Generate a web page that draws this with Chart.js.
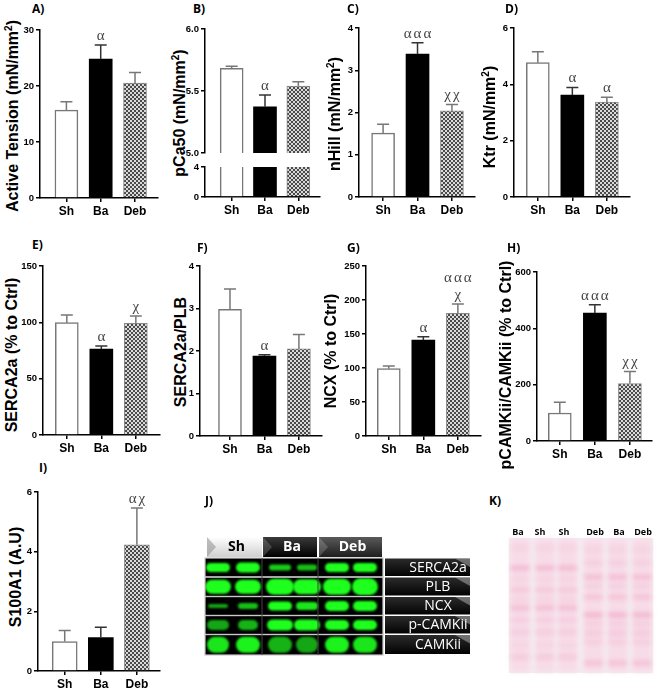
<!DOCTYPE html>
<html>
<head>
<meta charset="utf-8">
<script src="https://cdn.jsdelivr.net/npm/chart.js@4.4.1/dist/chart.umd.min.js"></script>
<style>
  body { margin: 0; background: #fff; }
  #fig { position: relative; width: 657px; height: 694px; overflow: hidden; background: #fff; }
  canvas { position: absolute; }
  .ytitle { position: absolute; white-space: nowrap; font: bold 16px "Liberation Sans", Arial, sans-serif; line-height: 1; color: #000;
            transform: translate(-50%, -50%) rotate(-90deg); }
  .ytitle sup { font-size: 10px; vertical-align: 6px; line-height: 0; }
  .letter { position: absolute; font: bold 12px "Open Sans", sans-serif; line-height: 12px; color: #000; }
</style>
</head>
<body>
<div id="fig"></div>
<script>
const categories = ['Sh', 'Ba', 'Deb'];

// A) active tension
const tensionMean = [15.7, 24.8, 20.5];
const tensionSem = [1.5, 2.5, 1.9];
const tensionSig = ['', 'α', ''];
// B) pCa50
const pca50Mean = [5.683, 5.373, 5.54];
const pca50Sem = [0.017, 0.095, 0.035];
const pca50Sig = ['', 'α', ''];
// C) nHill
const nhillMean = [1.51, 3.38, 2.04];
const nhillSem = [0.21, 0.27, 0.15];
const nhillSig = ['', 'ααα', 'χχ'];
// D) Ktr
const ktrMean = [4.77, 3.62, 3.37];
const ktrSem = [0.39, 0.27, 0.17];
const ktrSig = ['', 'α', 'α'];
// E) SERCA2a
const sercaMean = [99.7, 76.3, 99.1];
const sercaSem = [6.8, 2.7, 6.5];
const sercaSig = ['', 'α', 'χ'];
// F) SERCA2a/PLB
const sercaPlbMean = [2.98, 1.88, 2.05];
const sercaPlbSem = [0.48, 0.03, 0.34];
const sercaPlbSig = ['', 'α', ''];
// G) NCX
const ncxMean = [99, 141, 180.4];
const ncxSem = [4, 5, 13.6];
const ncxSig = ['', 'α', ['ααα', 'χ']];
// H) pCAMKii/CAMKii
const camkiiMean = [99.5, 454, 204];
const camkiiSem = [38.5, 30, 43];
const camkiiSig = ['', 'ααα', 'χχ'];
// I) S100A1
const s100Mean = [0.99, 1.12, 4.23];
const s100Sem = [0.37, 0.35, 1.23];
const s100Sig = ['', '', 'αχ'];

// J) western blot rows and K) ponceau lanes
const blotRows = ['SERCA2a', 'PLB', 'NCX', 'p-CAMKii', 'CAMKii'];
const blotGroups = ['Sh', 'Ba', 'Deb'];
const ponceauLanes = ['Ba', 'Sh', 'Sh', 'Deb', 'Ba', 'Deb'];

const fig = document.getElementById('fig');
const YW = 30, PT = 8, PR = 8, XH = 24;

function addCanvas(left, top, w, h) {
    const c = document.createElement('canvas');
    c.width = w; c.height = h;
    c.style.cssText = `left:${left}px;top:${top}px;width:${w}px;height:${h}px`;
    fig.appendChild(c);
    return c;
}

function addText(cls, html, x, y) {
    const d = document.createElement('div');
    d.className = cls;
    d.innerHTML = html;
    d.style.left = x + 'px';
    d.style.top = y + 'px';
    fig.appendChild(d);
}

// checkered fill used for the Deb bars
const checker = (() => {
    const c = document.createElement('canvas');
    c.width = c.height = 4;
    const g = c.getContext('2d');
    g.fillStyle = '#dadada'; g.fillRect(0, 0, 4, 4);
    g.fillStyle = '#4a4a4a'; g.fillRect(0, 0, 2, 2); g.fillRect(2, 2, 2, 2);
    return g.createPattern(c, 'repeat');
})();

// error bars (upper SEM only) and significance symbols
const semBarsPlugin = {
    id: 'semBars',
    afterDatasetsDraw(chart, args, opts) {
        const ctx = chart.ctx;
        const yScale = chart.scales.y;
        const meta = chart.getDatasetMeta(0);
        const ds = chart.data.datasets[0];
        ctx.save();
        meta.data.forEach((bar, i) => {
            const value = ds.data[i].y;
            if (value > yScale.max) return;
            let topPx = bar.y;
            if (opts.sem) {
                const errPx = yScale.getPixelForValue(value + opts.sem[i]);
                ctx.strokeStyle = ['#777', '#333', '#777'][i];
                ctx.lineWidth = 1.5;
                ctx.beginPath();
                ctx.moveTo(bar.x, bar.y);
                ctx.lineTo(bar.x, errPx);
                ctx.moveTo(bar.x - 6, errPx);
                ctx.lineTo(bar.x + 6, errPx);
                ctx.stroke();
                topPx = errPx;
            }
            const sig = opts.sig && opts.sig[i];
            if (sig) {
                const lines = Array.isArray(sig) ? sig : [sig];
                ctx.font = '15px "Liberation Serif", serif';
                ctx.fillStyle = '#444';
                ctx.textAlign = 'center';
                ctx.textBaseline = 'alphabetic';
                ctx.letterSpacing = '2px';
                lines.slice().reverse().forEach((t, k) => ctx.fillText(t, bar.x + 1, topPx - 5 - k * 17));
            }
        });
        ctx.restore();
    }
};

function makeChart(p) {
    const showX = p.showX !== false;
    const padB = showX ? 0 : 8;
    const w = p.R - p.L + YW + PR;
    const h = p.B - p.T + PT + (showX ? XH : padB);
    const canvas = addCanvas(p.L - YW, p.T - PT, w, h);
    return new Chart(canvas, {
        type: 'bar',
        data: {
            datasets: [{
                data: p.mean.map((v, i) => ({ x: i + 1, y: v })),
                backgroundColor: ['#fff', '#000', checker],
                borderColor: ['#777', '#000', '#888'],
                borderWidth: [1.5, 0, 1],
                borderSkipped: 'start',
                barThickness: p.barW || 23,
                clip: p.clip
            }]
        },
        options: {
            responsive: false,
            animation: false,
            layout: { padding: { top: PT, right: PR, left: 0, bottom: padB } },
            plugins: {
                legend: { display: false },
                tooltip: { enabled: false },
                semBars: { sem: p.sem, sig: p.sig }
            },
            scales: {
                x: {
                    type: 'linear',
                    display: showX,
                    min: p.xmin, max: p.xmax,
                    offset: false,
                    afterBuildTicks: s => { s.ticks = categories.map((c, i) => ({ value: i + 1 })); },
                    afterFit: s => { if (showX) s.height = XH; },
                    grid: { drawOnChartArea: false, drawTicks: true, tickLength: 4, color: '#000', lineWidth: 1.5, offset: false },
                    border: { display: true, color: '#000', width: 1.5 },
                    ticks: {
                        font: { family: '"Liberation Sans", Arial', weight: 'bold', size: 12 },
                        color: '#000', padding: 2, maxRotation: 0, autoSkip: false,
                        callback: v => categories[v - 1]
                    }
                },
                y: {
                    type: 'linear',
                    min: p.yMin || 0, max: p.yMax,
                    afterFit: s => { s.width = YW; },
                    grid: { drawOnChartArea: false, drawTicks: true, tickLength: 4, color: '#000', lineWidth: 1.5 },
                    border: { display: true, color: '#000', width: 1.5 },
                    ticks: {
                        stepSize: p.step,
                        font: { family: '"Liberation Sans", Arial', weight: 'bold', size: 9.5 },
                        color: '#000', padding: 2,
                        callback: p.fmt || (v => v)
                    }
                }
            }
        },
        plugins: [semBarsPlugin]
    });
}

const panels = [
    { letter: 'A)', lx: 32, ly: 3, title: 'Active Tension (mN/mm<sup>2</sup>)', tx: 13, ty: 116,
      charts: [{ mean: tensionMean, sem: tensionSem, sig: tensionSig, yMax: 30, step: 10,
                 L: 40, T: 30, R: 158, B: 198, xmin: 0.23, xmax: 3.67 }] },
    { letter: 'B)', lx: 193, ly: 3, title: 'pCa50 (mN/mm<sup>2</sup>)', tx: 180, ty: 113,
      charts: [{ mean: pca50Mean, sem: pca50Sem, sig: pca50Sig, yMin: 5, yMax: 6, step: 0.5, fmt: v => v.toFixed(1),
                 showX: false, clip: 0, L: 205, T: 29, R: 320, B: 153, xmin: 0.2, xmax: 3.65 },
               { mean: pca50Mean, yMin: 0, yMax: 4, step: 4, clip: 0,
                 L: 205, T: 167, R: 320, B: 197, xmin: 0.2, xmax: 3.65 }] },
    { letter: 'C)', lx: 347, ly: 3, title: 'nHill (mN/mm<sup>2</sup>)', tx: 335, ty: 114,
      charts: [{ mean: nhillMean, sem: nhillSem, sig: nhillSig, yMax: 4, step: 1,
                 L: 359, T: 28, R: 475, B: 197, xmin: 0.3, xmax: 3.67 }] },
    { letter: 'D)', lx: 505, ly: 3, title: 'Ktr (mN/mm<sup>2</sup>)', tx: 490, ty: 117,
      charts: [{ mean: ktrMean, sem: ktrSem, sig: ktrSig, yMax: 6, step: 2,
                 L: 514, T: 28, R: 630, B: 197, xmin: 0.31, xmax: 3.67 }] },
    { letter: 'E)', lx: 32, ly: 239, title: 'SERCA2a (% to Ctrl)', tx: 12, ty: 355,
      charts: [{ mean: sercaMean, sem: sercaSem, sig: sercaSig, yMax: 150, step: 50,
                 L: 43, T: 266, R: 160, B: 435, xmin: 0.31, xmax: 3.7 }] },
    { letter: 'F)', lx: 197, ly: 242, title: 'SERCA2a/PLB', tx: 181, ty: 352,
      charts: [{ mean: sercaPlbMean, sem: sercaPlbSem, sig: sercaPlbSig, yMax: 4, step: 1,
                 L: 200, T: 266, R: 322, B: 436, xmin: 0.13, xmax: 3.67 }] },
    { letter: 'G)', lx: 347, ly: 242, title: 'NCX (% to Ctrl)', tx: 331, ty: 351,
      charts: [{ mean: ncxMean, sem: ncxSem, sig: ncxSig, yMax: 250, step: 50,
                 L: 366, T: 266, R: 481, B: 436, xmin: 0.34, xmax: 3.67 }] },
    { letter: 'H)', lx: 507, ly: 242, title: 'pCAMKii/CAMKii (% to Ctrl)', tx: 506, ty: 365,
      charts: [{ mean: camkiiMean, sem: camkiiSem, sig: camkiiSig, yMax: 600, step: 200,
                 L: 537, T: 272, R: 652, B: 441, xmin: 0.35, xmax: 3.63 }] },
    { letter: 'I)', lx: 39, ly: 462, title: 'S100A1 (A.U)', tx: 16, ty: 577,
      charts: [{ mean: s100Mean, sem: s100Sem, sig: s100Sig, yMax: 6, step: 2, barW: 25,
                 L: 38, T: 492, R: 160, B: 671, xmin: 0.26, xmax: 3.64 }] }
];

panels.forEach(p => {
    addText('ytitle', p.title, p.tx, p.ty);
    addText('letter', p.letter, p.lx, p.ly);
    p.charts.forEach(makeChart);
});
addText('letter', 'J)', 205, 495);
addText('letter', 'K)', 489, 495);

// J) fluorescent western blot
function pill(g, cx, cy, hw, hh) {
    const r = Math.min(hh, hw);
    g.beginPath();
    g.moveTo(cx - hw + r, cy - hh);
    g.lineTo(cx + hw - r, cy - hh);
    g.arc(cx + hw - r, cy, r, -Math.PI / 2, Math.PI / 2);
    g.lineTo(cx - hw + r, cy + hh);
    g.arc(cx - hw + r, cy, r, Math.PI / 2, Math.PI * 1.5);
    g.fill();
}

function drawBlot() {
    const c = addCanvas(200, 528, 275, 132);
    const g = c.getContext('2d');
    // group tabs
    const tabs = [[7, 55, '#ffffff', '#cfcfcf', '#000'], [63, 54, '#3a3a3a', '#000', '#fff'], [119, 63, '#5a5a5a', '#1e1e1e', '#fff']];
    tabs.forEach(([x, w, c1, c2, tc], i) => {
        const gr = g.createLinearGradient(0, 9, 0, 29);
        gr.addColorStop(0, c1); gr.addColorStop(1, c2);
        g.fillStyle = gr;
        g.fillRect(x, 9, w, 20);
        g.fillStyle = i === 0 ? 'rgba(150,150,150,0.6)' : 'rgba(255,255,255,0.18)';
        g.beginPath(); g.moveTo(x, 9); g.lineTo(x + 9, 19); g.lineTo(x, 29); g.fill();
        g.fillStyle = tc;
        g.font = 'bold 14px "Open Sans", sans-serif';
        g.textAlign = 'center'; g.textBaseline = 'middle';
        g.fillText(blotGroups[i], x + w / 2 + 2, 19.5);
    });
    // membrane rows
    const rowTop = [30, 49, 68.5, 87.5, 106.5, 127];
    const lanes = [18, 48, 80, 107, 137, 165];
    const bands = [
        [[12, 4.5, 1], [12, 5, 1], [11, 3, 0.8], [10, 3, 0.75], [12, 4.5, 1], [12, 4.5, 1]],
        [[13, 7, 1], [13, 7, 1], [14, 8, 1], [14, 7.5, 1], [14, 8, 1], [13, 8.5, 1]],
        [[10, 2, 0.65], [10, 3, 0.75], [12, 4.5, 1], [11, 4, 0.9], [12, 5, 1], [12, 5, 1]],
        [[11, 5, 0.65], [10, 5, 0.7], [13, 5.5, 1], [13, 5.5, 1], [12, 5, 1], [12, 5, 1]],
        [[11, 8, 0.9], [12, 8, 0.95], [12, 8, 0.7], [11, 8, 0.65], [12, 8, 0.95], [12, 8, 0.9]]
    ];
    g.fillStyle = '#000';
    g.fillRect(5, 30, 178, 97);
    blotRows.forEach((name, r) => {
        const y0 = rowTop[r], y1 = rowTop[r + 1];
        const cy = (y0 + y1) / 2;
        g.save();
        g.beginPath(); g.rect(5, y0 + 1, 178, y1 - y0 - 2); g.clip();
        g.filter = 'blur(1.3px)';
        bands[r].forEach(([hw, hh, a], k) => {
            g.fillStyle = `rgba(30,255,30,${a})`;
            pill(g, lanes[k], cy, hw, hh);
        });
        g.restore();
        g.strokeStyle = '#c9c9c9';
        g.lineWidth = 1.2;
        g.strokeRect(5, y0, 178, y1 - y0);
        // row name button
        const gr = g.createLinearGradient(0, y0, 0, y1);
        gr.addColorStop(0, '#2c2c2c'); gr.addColorStop(1, '#000');
        g.fillStyle = gr;
        g.fillRect(185, y0 + 0.5, 85, y1 - y0 - 1.5);
        g.fillStyle = 'rgba(200,200,200,0.45)';
        g.beginPath(); g.moveTo(255, y0 + 0.5); g.lineTo(270, y0 + 0.5); g.lineTo(270, y0 + 9); g.fill();
        g.fillStyle = '#fff';
        g.font = '14px "Open Sans", sans-serif';
        g.textAlign = 'center'; g.textBaseline = 'middle';
        g.fillText(name, 238, cy + 0.5);
    });
    g.strokeStyle = '#444'; g.lineWidth = 1;
    [62, 118].forEach(x => { g.beginPath(); g.moveTo(x, 30); g.lineTo(x, 127); g.stroke(); });
}

// K) ponceau stained membrane
function drawPonceau() {
    const ox = 485, oy = 524;
    const c = addCanvas(ox, oy, 172, 154);
    const g = c.getContext('2d');
    const labelX = [518, 540, 564, 595, 619, 643].map(x => x - ox);
    const laneX = [520, 545, 567.5, 593.5, 617.5, 642].map(x => x - ox);
    g.font = 'bold 9px "Open Sans", sans-serif';
    g.fillStyle = '#000';
    g.textAlign = 'center'; g.textBaseline = 'middle';
    ponceauLanes.forEach((t, i) => g.fillText(t, labelX[i], 8.7));
    g.fillStyle = '#f5ebf0';
    g.fillRect(24, 14, 144, 135);
    g.save();
    g.filter = 'blur(2px)';
    laneX.forEach(x => { g.fillStyle = '#f7dbe7'; g.fillRect(x - 9.5, 15, 19, 133); });
    const leftBands = [[548, 0.2], [568, 0.75], [579, 0.2], [590, 0.45], [600, 0.2], [608, 0.7], [620, 0.3], [632, 0.35], [645, 0.15], [657, 0.4]];
    const rightBands = [[550, 0.2], [563, 0.25], [577, 0.7], [586, 0.25], [597, 0.55], [615, 0.85], [624, 0.3], [633, 0.4], [642, 0.3], [663, 0.6]];
    laneX.forEach((x, i) => {
        (i < 3 ? leftBands : rightBands).forEach(([y, s]) => {
            g.fillStyle = `rgba(236,110,165,${s * 0.4})`;
            g.fillRect(x - 9.5, y - oy - 2.5, 19, 5);
        });
    });
    g.restore();
}

drawBlot();
drawPonceau();
</script>
</body>
</html>
